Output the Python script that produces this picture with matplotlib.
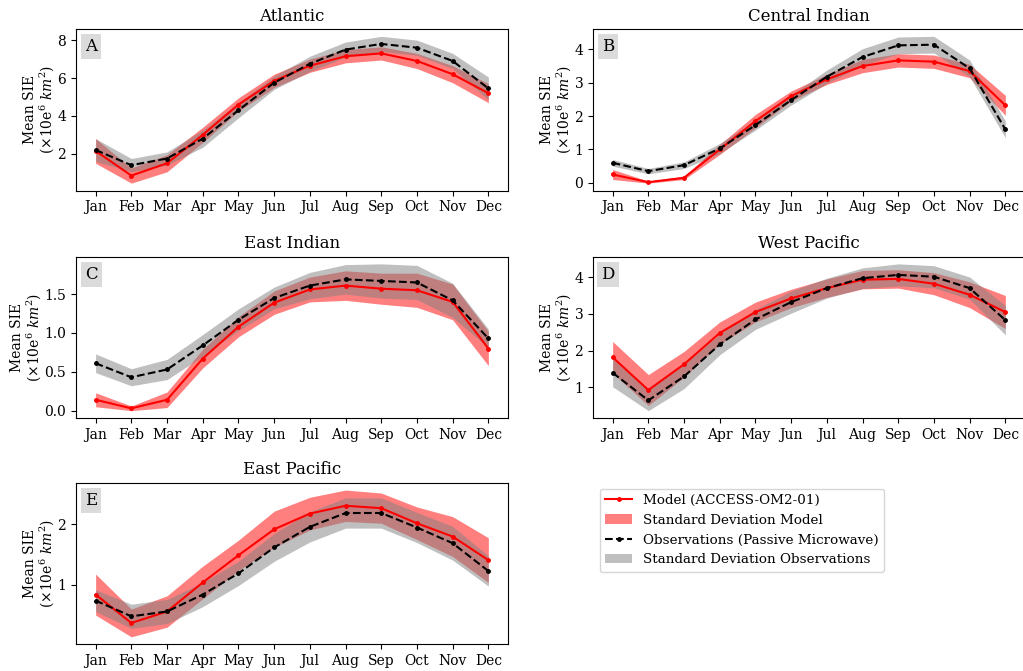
import matplotlib
matplotlib.use("Agg")
import matplotlib.pyplot as plt
import numpy as np

plt.rcParams['font.family'] = ['DejaVu Serif']
plt.rcParams['mathtext.fontset'] = 'dejavuserif'
plt.rcParams['font.size'] = 10

months = ['Jan', 'Feb', 'Mar', 'Apr', 'May', 'Jun', 'Jul', 'Aug', 'Sep', 'Oct', 'Nov', 'Dec']

regions = ['Atlantic', 'Central Indian', 'East Indian', 'West Pacific', 'East Pacific']
letters = ['A', 'B', 'C', 'D', 'E']

# Atlantic
atl_model = [2.15, 0.85, 1.5, 3.0, 4.6, 5.85, 6.65, 7.15, 7.3, 6.9, 6.2, 5.2]
atl_model_sd = [0.65, 0.4, 0.45, 0.4, 0.35, 0.35, 0.35, 0.35, 0.35, 0.4, 0.45, 0.5]
atl_obs = [2.2, 1.4, 1.75, 2.8, 4.3, 5.75, 6.75, 7.5, 7.8, 7.6, 6.9, 5.45]
atl_obs_sd = [0.6, 0.35, 0.35, 0.45, 0.4, 0.35, 0.4, 0.4, 0.4, 0.4, 0.4, 0.6]

# Central Indian
cin_model = [0.25, 0.02, 0.15, 1.0, 1.85, 2.6, 3.1, 3.5, 3.67, 3.63, 3.35, 2.32]
cin_model_sd = [0.15, 0.03, 0.05, 0.15, 0.2, 0.15, 0.15, 0.2, 0.2, 0.2, 0.2, 0.3]
cin_obs = [0.6, 0.35, 0.53, 1.03, 1.73, 2.48, 3.18, 3.77, 4.12, 4.14, 3.43, 1.6]
cin_obs_sd = [0.1, 0.08, 0.1, 0.15, 0.15, 0.15, 0.2, 0.25, 0.25, 0.25, 0.25, 0.25]

# East Indian
ein_model = [0.14, 0.03, 0.14, 0.67, 1.08, 1.39, 1.56, 1.61, 1.57, 1.55, 1.40, 0.80]
ein_model_sd = [0.09, 0.03, 0.1, 0.12, 0.13, 0.15, 0.16, 0.19, 0.2, 0.22, 0.23, 0.22]
ein_obs = [0.61, 0.43, 0.53, 0.84, 1.17, 1.45, 1.61, 1.69, 1.67, 1.65, 1.42, 0.93]
ein_obs_sd = [0.12, 0.11, 0.13, 0.14, 0.14, 0.14, 0.17, 0.19, 0.22, 0.22, 0.22, 0.12]

# West Pacific
wpa_model = [1.82, 0.93, 1.63, 2.48, 3.05, 3.42, 3.70, 3.93, 3.95, 3.82, 3.52, 3.05]
wpa_model_sd = [0.43, 0.42, 0.35, 0.3, 0.27, 0.25, 0.25, 0.25, 0.25, 0.3, 0.35, 0.45]
wpa_obs = [1.40, 0.65, 1.30, 2.17, 2.85, 3.32, 3.70, 3.97, 4.06, 4.01, 3.70, 2.83]
wpa_obs_sd = [0.38, 0.28, 0.33, 0.28, 0.27, 0.3, 0.27, 0.28, 0.3, 0.3, 0.3, 0.4]

# East Pacific
epa_model = [0.84, 0.37, 0.56, 1.04, 1.49, 1.92, 2.18, 2.31, 2.27, 2.02, 1.80, 1.41]
epa_model_sd = [0.34, 0.23, 0.26, 0.27, 0.25, 0.3, 0.27, 0.26, 0.25, 0.27, 0.33, 0.37]
epa_obs = [0.74, 0.48, 0.56, 0.84, 1.19, 1.62, 1.96, 2.19, 2.19, 1.95, 1.69, 1.23]
epa_obs_sd = [0.18, 0.2, 0.2, 0.2, 0.2, 0.23, 0.25, 0.25, 0.25, 0.25, 0.28, 0.25]

model_series = [atl_model, cin_model, ein_model, wpa_model, epa_model]
model_sds = [atl_model_sd, cin_model_sd, ein_model_sd, wpa_model_sd, epa_model_sd]
obs_series = [atl_obs, cin_obs, ein_obs, wpa_obs, epa_obs]
obs_sds = [atl_obs_sd, cin_obs_sd, ein_obs_sd, wpa_obs_sd, epa_obs_sd]

W, H = 1023, 671
fig = plt.figure(figsize=(W / 100, H / 100), dpi=100)

aw, ah = 432, 161.5
lefts = [76, 593, 76, 593, 76]
tops = [29, 29, 256.5, 256.5, 482.7]

x = np.arange(len(months))
handles = None
for i in range(5):
    ax = fig.add_axes([lefts[i] / W, 1 - (tops[i] + ah) / H, aw / W, ah / H])
    m = np.array(model_series[i]); ms = np.array(model_sds[i])
    o = np.array(obs_series[i]); osd = np.array(obs_sds[i])
    l1, = ax.plot(x, m, color='red', marker='.', markersize=5, lw=1.5, zorder=3,
                  label='Model (ACCESS-OM2-01)')
    f1 = ax.fill_between(x, m - ms, m + ms, color='red', alpha=0.5, lw=0,
                         label='Standard Deviation Model')
    l2, = ax.plot(x, o, color='black', ls='--', marker='.', markersize=5, lw=1.5, zorder=4,
                  label='Observations (Passive Microwave)')
    f2 = ax.fill_between(x, o - osd, o + osd, color='gray', alpha=0.5, lw=0,
                         label='Standard Deviation Observations')
    handles = [l1, f1, l2, f2]
    ax.set_xticks(x)
    ax.set_xticklabels(months)
    ax.set_title(regions[i], fontsize=12)
    ax.set_ylabel('Mean SIE\n(×10e$^6$ $km^2$)', linespacing=1.0, labelpad=1)
    ax.text(0.035, 0.89, letters[i], transform=ax.transAxes, fontsize=12,
            ha='center', va='center',
            bbox=dict(facecolor='lightgray', alpha=0.8, edgecolor='none', pad=3))

fig.legend(handles=handles, loc='upper left',
           bbox_to_anchor=(593 / W, 1 - 482 / H), fontsize=9.7, frameon=True)

fig.savefig('out.png', dpi=100)
